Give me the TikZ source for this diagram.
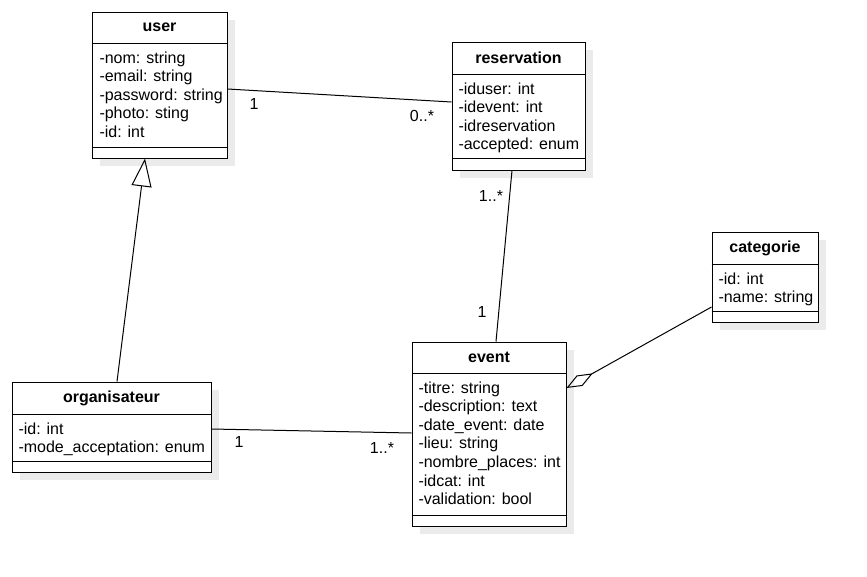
\documentclass[tikz,border=0pt]{standalone}
\usepackage{fontspec}
\setmainfont{Liberation Sans}
\usetikzlibrary{arrows.meta,shadows}

\tikzset{
  classbox/.style={draw, fill=white, inner sep=0pt,
    drop shadow={shadow xshift=8pt, shadow yshift=-8pt, fill=black!8, opacity=1}},
  classname/.style={font=\fontsize{16}{18.6}\selectfont\bfseries, inner sep=0pt},
  attrs/.style={align=left, anchor=north west, inner sep=0pt},
  mult/.style={inner sep=0pt},
}

\begin{document}
\begin{tikzpicture}[x=1pt, y=-1pt, line width=1pt, font=\fontsize{16}{18.6}\selectfont]
		\useasboundingbox (0,0) rectangle (867,576);

		% classe user
		\node[classbox, minimum width=135pt, minimum height=146pt] (user) at (159.5,85) {};
		\node[classname] (user-name) at (159.5,27.5) {user};
		\draw (user.west |- 0,43) -- (user.east |- 0,43);
		\draw (user.west |- 0,147) -- (user.east |- 0,147);
		\node[attrs] (user-attr) at (99,51) {-nom: string\\-email: string\\-password: string\\-photo: sting\\-id: int};

		% classe reservation
		\node[classbox, minimum width=133pt, minimum height=128pt] (reservation) at (518.5,106) {};
		\node[classname] (reservation-name) at (518.5,58) {reservation};
		\draw (reservation.west |- 0,74) -- (reservation.east |- 0,74);
		\draw (reservation.west |- 0,158) -- (reservation.east |- 0,158);
		\node[attrs] (reservation-attr) at (458,82) {-iduser: int\\-idevent: int\\-idreservation\\-accepted: enum};

		% classe categorie
		\node[classbox, minimum width=106pt, minimum height=90pt] (categorie) at (765,277) {};
		\node[classname] (categorie-name) at (765,248) {categorie};
		\draw (categorie.west |- 0,264) -- (categorie.east |- 0,264);
		\draw (categorie.west |- 0,311) -- (categorie.east |- 0,311);
		\node[attrs] (categorie-attr) at (718,272) {-id: int\\-name: string};

		% classe event
		\node[classbox, minimum width=154pt, minimum height=184pt] (event) at (489,434) {};
		\node[classname] (event-name) at (489,357.5) {event};
		\draw (event.west |- 0,373) -- (event.east |- 0,373);
		\draw (event.west |- 0,515) -- (event.east |- 0,515);
		\node[attrs] (event-attr) at (418,381) {-titre: string\\-description: text\\-date\_event: date\\-lieu: string\\-nombre\_places: int\\-idcat: int\\-validation: bool};

		% classe organisateur
		\node[classbox, minimum width=199pt, minimum height=90pt] (organisateur) at (111.5,427) {};
		\node[classname] (organisateur-name) at (111.5,398) {organisateur};
		\draw (organisateur.west |- 0,414) -- (organisateur.east |- 0,414);
		\draw (organisateur.west |- 0,461) -- (organisateur.east |- 0,461);
		\node[attrs] (organisateur-attr) at (18,422) {-id: int\\-mode\_acceptation: enum};

		% associations
		\draw ([yshift=-4pt]user.east) -- ([yshift=4pt]reservation.west);
		\node[mult] (m-user) at (254,104) {1};
		\node[mult] (m-reservation) at (422,116) {0..*};

		\draw ([xshift=-6.5pt]reservation.south) -- ([xshift=7pt]event.north);
		\node[mult] (m-reservation2) at (491,196) {1..*};
		\node[mult] (m-event) at (482,312) {1};

		\draw ([yshift=-2pt]organisateur.east) -- ([yshift=1pt]event.west);
		\node[mult] (m-organisateur) at (239,442) {1};
		\node[mult] (m-event2) at (382,448) {1..*};

		% heritage et agregation
		\draw[-{Triangle[open, length=28pt, width=20pt]}] ([xshift=5.5pt]organisateur.north) -- ([xshift=-14.5pt]user.south);
		\draw[-{Diamond[open, length=30pt, width=12pt]}] ([yshift=-30pt]categorie.west) -- ([yshift=46pt]event.east);
\end{tikzpicture}
\end{document}
